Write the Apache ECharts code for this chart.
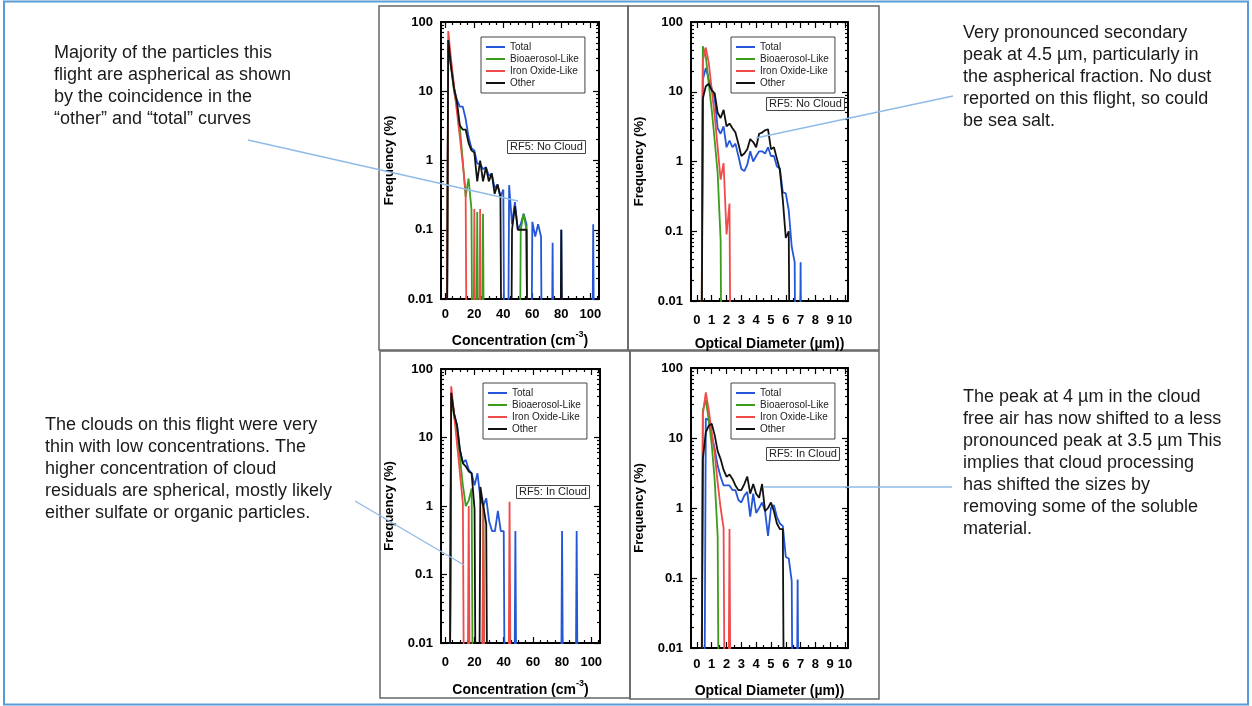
<!DOCTYPE html>
<html><head><meta charset="utf-8">
<script src="https://cdn.jsdelivr.net/npm/echarts@6/dist/echarts.min.js"></script>
<style>html,body{margin:0;padding:0;background:#fff}#c{width:1252px;height:706px}</style>
</head><body><div id="c"></div>
<script>
const FONT = '"Liberation Sans", Arial, Helvetica, sans-serif';

// ---------- data ----------
const seriesNames = ['Total', 'Bioaerosol-Like', 'Iron Oxide-Like', 'Other'];
const seriesColors = ['#2456d8', '#3c9c1c', '#f04a4a', '#111111'];

const concBins = [0,2,4,6,8,10,12,14,16,18, 20,22,24,26,28,30,32,34,36,38, 40,42,44,46,48,50,52,54,56,58, 60,62,64,66,68,70,72,74,76,78, 80,82,84,86,88,90,92,94,96,98, 100,102,104];
const diamBins = [0.2,0.4,0.6,0.8,1.0,1.2,1.4,1.6,1.8,2.0, 2.2,2.4,2.6,2.8,3.0,3.2,3.4,3.6,3.8,4.0, 4.2,4.4,4.6,4.8,5.0,5.2,5.4,5.6,5.8,6.0, 6.2,6.4,6.6,6.8,7.0,7.2,7.4];

// RF5 No Cloud, concentration (frequency %)
const noCloudConcTotal = [0,55,24,11,7.5,6,6,4,2.2,1.5, 1.4,0.9,0.9,0.75,0.8,0.6,0.65,0.4,0.45,0.3, 0.38,0,0.44,0.12,0.25,0.1,0.12,0.17,0.12,0, 0.13,0.08,0.12,0.08,0,0,0,0.065,0,0, 0.1,0,0,0,0,0,0,0,0,0, 0,0.12,0];
const noCloudConcBio   = [0,45,22,10,6,3,1,0.3,0.55,0.2, 0,0.18,0,0.17,0,0,0,0,0,0, 0,0,0,0,0,0,0.1,0.17,0.1,0, 0,0,0,0,0,0,0,0,0,0, 0,0,0,0,0,0,0,0,0,0, 0,0,0];
const noCloudConcIron  = [0,74,28,12,5,2.2,0.9,0.35,0,0, 0.2,0,0.2,0,0,0,0,0,0,0, 0,0,0,0,0,0,0,0,0,0, 0,0,0,0,0,0,0,0,0,0, 0,0,0,0,0,0,0,0,0,0, 0,0,0];
const noCloudConcOther = [0,55,22,11,7,3.2,2.8,2.8,1.8,1.4, 1.3,0.5,1.0,0.5,0.8,0.5,0.65,0.33,0.45,0.3, 0,0,0,0.1,0.22,0.1,0.1,0.1,0.1,0, 0,0,0,0,0,0,0,0,0,0, 0.1,0,0,0,0,0,0,0,0,0, 0,0,0];

// RF5 No Cloud, optical diameter
const noCloudDiamTotal = [0,15,22,15,11,8,3.0,2.5,3.2,1.6, 2.0,1.6,1.8,1.2,0.78,0.73,0.9,1.4,1.0,1.2, 1.4,1.4,1.3,1.6,1.2,1.2,0.85,0.8,0.36,0.35, 0.2,0.06,0.036,0,0.036,0,0];
const noCloudDiamBio   = [0,45,32,13,5.5,2.0,0.68,0.075,0,0, 0,0,0,0,0,0,0,0,0,0, 0,0,0,0,0,0,0,0,0,0, 0,0,0,0,0,0,0];
const noCloudDiamIron  = [0,28,43,26,10.7,4.5,1.6,0.55,0.95,0.09, 0.25,0,0,0,0,0,0,0,0,0, 0,0,0,0,0,0,0,0,0,0, 0,0,0,0,0,0,0];
const noCloudDiamOther = [0,8,12,13,10.5,9.5,5,4.2,5.5,3.2, 3.5,3.0,2.6,1.8,1.2,1.3,1.5,2.1,1.9,1.6, 2.5,2.6,2.8,2.9,1.5,1.6,1.1,0.75,0.28,0.08, 0.1,0,0,0,0,0,0];

// RF5 In Cloud, concentration
const inCloudConcTotal = [0,0,45,22,15,6.5,4.3,4.7,3.4,3.0, 2.0,3.0,1.3,1.0,1.3,0.6,0.43,0.43,0.85,0.43, 0.43,0,0,0,0.43,0,0,0,0,0, 0,0,0,0,0,0,0,0,0,0, 0.43,0,0,0,0,0.43,0,0,0,0, 0,0,0];
const inCloudConcBio   = [0,0,40,20,12,5,2,1.0,1.2,1.8, 0,0,0,1.1,0,0,0,0,0,0, 0,0,0,0,0,0,0,0,0,0, 0,0,0,0,0,0,0,0,0,0, 0,0,0,0,0,0,0,0,0,0, 0,0,0];
const inCloudConcIron  = [0,0,56,22,8,3,1.1,0,1.0,0, 0,0,0,1.1,0,0,0,0,0,0, 0,0,1.15,0,0,0,0,0,0,0, 0,0,0,0,0,0,0,0,0,0, 0,0,0,0,0,0,0,0,0,0, 0,0,0];
const inCloudConcOther = [0,0,45,22,15,6.5,4.2,3.8,3.2,3.0, 0.9,0,1.9,1.0,0.55,0,0,0,0,0, 0,0,0,0,0,0,0,0,0,0, 0,0,0,0,0,0,0,0,0,0, 0,0,0,0,0,0,0,0,0,0, 0,0,0];

// RF5 In Cloud, optical diameter
const inCloudDiamTotal = [0,0,19,18,11,7,4,2.8,2.1,2.1, 2.1,1.8,1.8,1.3,1.2,1.5,1.7,0.75,1.6,0.85, 1.0,1.2,0.9,0.4,1.0,1.1,0.75,0.6,0.55,0.2, 0.19,0.09,0,0.095,0,0,0];
const inCloudDiamBio   = [0,25,35,18,8,2.5,0.4,0,0,0, 0,0,0,0,0,0,0,0,0,0, 0,0,0,0,0,0,0,0,0,0, 0,0,0,0,0,0,0];
const inCloudDiamIron  = [0,22,45,25,12,6,2.3,1.0,0.52,0, 0.5,0,0,0,0,0,0,0,0,0, 0,0,0,0,0,0,0,0,0,0, 0,0,0,0,0,0,0];
const inCloudDiamOther = [0,5,12,15,16,11,6.5,5,3.5,2.8, 3.0,2.6,2.1,1.8,1.8,2.2,2.8,1.6,2.2,1.6, 1.4,2.2,0.9,1.0,1.2,0.9,0.6,0.5,0.5,0, 0,0,0,0,0,0,0];

// tick labels / tick values
const concTicks = [0,20,40,60,80,100];
const concMinorTicks = [5,10,15,25,30,35,45,50,55,65,70,75,85,90,95,105];
const diamTicks = [0,1,2,3,4,5,6,7,8,9,10];
const diamMinorTicks = [0.5,1.5,2.5,3.5,4.5,5.5,6.5,7.5,8.5,9.5];
const freqDecades = [0.01,0.1,1,10,100];
const freqMinorTicks = [0.02,0.03,0.04,0.05,0.06,0.07,0.08,0.09, 0.2,0.3,0.4,0.5,0.6,0.7,0.8,0.9, 2,3,4,5,6,7,8,9, 20,30,40,50,60,70,80,90];
const freqMin = 0.01, freqMax = 100;
const ZERO_FLOOR = 1e-8; // zero counts drop to the bottom of the log axis

// ---------- layout ----------
const concName = '{a|Concentration (cm}{s|-3}{a|)}';
const diamName = '{a|Optical Diameter (\u00b5m))}';
const panels = [
  {grid:{left:441,top:22,width:158,height:277}, xMin:-3, xMax:106, bins:concBins, ticks:concTicks, minor:concMinorTicks,
   xName:concName, labelMargin:9, nameGap:31,
   data:[noCloudConcTotal,noCloudConcBio,noCloudConcIron,noCloudConcOther], legend:{left:481,top:37}, tag:{text:'RF5: No Cloud',left:507,top:140}},
  {grid:{left:691,top:22,width:157,height:279}, xMin:-0.4, xMax:10.2, bins:diamBins, ticks:diamTicks, minor:diamMinorTicks,
   xName:diamName, labelMargin:13, nameGap:32,
   data:[noCloudDiamTotal,noCloudDiamBio,noCloudDiamIron,noCloudDiamOther], legend:{left:731,top:37}, tag:{text:'RF5: No Cloud',left:766,top:97}},
  {grid:{left:441,top:369,width:159,height:274}, xMin:-3, xMax:106, bins:concBins, ticks:concTicks, minor:concMinorTicks,
   xName:concName, labelMargin:13, nameGap:36,
   data:[inCloudConcTotal,inCloudConcBio,inCloudConcIron,inCloudConcOther], legend:{left:483,top:383}, tag:{text:'RF5: In Cloud',left:516,top:485}},
  {grid:{left:691,top:368,width:157,height:280}, xMin:-0.4, xMax:10.2, bins:diamBins, ticks:diamTicks, minor:diamMinorTicks,
   xName:diamName, labelMargin:10, nameGap:32,
   data:[inCloudDiamTotal,inCloudDiamBio,inCloudDiamIron,inCloudDiamOther], legend:{left:731,top:383}, tag:{text:'RF5: In Cloud',left:766,top:447}}
];

const BLACK = '#000';
const axisLineOn = {show:true, onZero:false, lineStyle:{color:BLACK, width:2}};
const axisLineOff = {show:false, onZero:false};
const tickStyle = {color:BLACK, width:1.2};
const grids = [], xAxes = [], yAxes = [], series = [], legends = [], titles = [];
const log10 = v => Math.log(v) / Math.LN10;

panels.forEach((p, gi) => {
  grids.push(Object.assign({show:false, outerBoundsMode:'none', containLabel:false}, p.grid));
  const xb = {type:'value', gridIndex:gi, min:p.xMin, max:p.xMax, splitLine:{show:false}, axisLabel:{show:false}, axisLine:axisLineOff};
  xAxes.push(Object.assign({}, xb, {position:'bottom', axisLine:axisLineOn,
    axisTick:{show:true, inside:true, length:6, customValues:p.ticks, lineStyle:tickStyle},
    axisLabel:{show:true, customValues:p.ticks, margin:p.labelMargin, color:BLACK, fontSize:13, fontWeight:'bold', fontFamily:FONT},
    name:p.xName, nameLocation:'middle', nameGap:p.nameGap,
    nameTextStyle:{rich:{
      a:{fontSize:14, fontWeight:'bold', fontFamily:FONT, color:BLACK, lineHeight:18, verticalAlign:'bottom'},
      s:{fontSize:9, fontWeight:'bold', fontFamily:FONT, color:BLACK, verticalAlign:'top'}}}}));
  xAxes.push(Object.assign({}, xb, {position:'bottom', axisTick:{show:true, inside:true, length:3, customValues:p.minor, lineStyle:tickStyle}}));
  xAxes.push(Object.assign({}, xb, {position:'top', axisLine:axisLineOn, axisTick:{show:true, inside:true, length:6, customValues:p.ticks, lineStyle:tickStyle}}));
  xAxes.push(Object.assign({}, xb, {position:'top', axisTick:{show:true, inside:true, length:3, customValues:p.minor, lineStyle:tickStyle}}));

  yAxes.push({type:'log', logBase:10, gridIndex:gi, min:freqMin, max:freqMax, position:'left',
    axisLine:axisLineOn, splitLine:{show:false}, minorTick:{show:false},
    axisTick:{show:true, inside:true, length:6, lineStyle:tickStyle},
    axisLabel:{margin:8, color:BLACK, fontSize:13, fontWeight:'bold', fontFamily:FONT},
    name:'Frequency (%)', nameLocation:'middle', nameGap:45, nameRotate:90,
    nameTextStyle:{fontSize:13, fontWeight:'bold', color:BLACK, fontFamily:FONT}});
  const yb = {type:'value', gridIndex:gi, min:log10(freqMin), max:log10(freqMax), splitLine:{show:false}, axisLabel:{show:false}, axisLine:axisLineOff};
  yAxes.push(Object.assign({}, yb, {position:'left', axisTick:{show:true, inside:true, length:3, customValues:freqMinorTicks.map(log10), lineStyle:tickStyle}}));
  yAxes.push(Object.assign({}, yb, {position:'right', axisLine:axisLineOn, axisTick:{show:true, inside:true, length:6, customValues:freqDecades.map(log10), lineStyle:tickStyle}}));
  yAxes.push(Object.assign({}, yb, {position:'right', axisTick:{show:true, inside:true, length:3, customValues:freqMinorTicks.map(log10), lineStyle:tickStyle}}));

  seriesNames.forEach((nm, k) => {
    series.push({type:'line', name:nm, xAxisIndex:gi*4, yAxisIndex:gi*4,
      data:p.bins.map((x, i) => [x, p.data[k][i] > 0 ? p.data[k][i] : ZERO_FLOOR]),
      showSymbol:false, symbol:'none', color:seriesColors[k], clip:true, z:2 + k,
      lineStyle:{width:1.8, color:seriesColors[k]}, emphasis:{disabled:true}});
  });

  legends.push({data:seriesNames, left:p.legend.left, top:p.legend.top, orient:'vertical', icon:'rect',
    itemWidth:19, itemHeight:2, itemGap:0, padding:[4,6,4,5], borderColor:'#444', borderWidth:1,
    selectedMode:false, textStyle:{fontSize:10, color:'#222', fontFamily:FONT, lineHeight:12}});

  titles.push({text:p.tag.text, left:p.tag.left, top:p.tag.top, padding:[0,3], borderColor:'#444', borderWidth:1,
    textStyle:{fontSize:11, fontWeight:'normal', color:'#222', fontFamily:FONT, lineHeight:14}});
});

// annotation notes
const noteStyle = {fontSize:18, fontWeight:'normal', color:'#1a1a1a', fontFamily:FONT, lineHeight:22};
titles.push({text:'Majority of the particles this\nflight are aspherical as shown\nby the coincidence in the\n\u201cother\u201d and \u201ctotal\u201d curves', left:54, top:42, padding:0, textStyle:noteStyle});
titles.push({text:'Very pronounced secondary\npeak at 4.5 \u00b5m, particularly in\nthe aspherical fraction. No dust\nreported on this flight, so could\nbe sea salt.', left:963, top:22, padding:0, textStyle:noteStyle});
titles.push({text:'The clouds on this flight were very\nthin with low concentrations. The\nhigher concentration of cloud\nresiduals are spherical, mostly likely\neither sulfate or organic particles.', left:45, top:414, padding:0, textStyle:noteStyle});
titles.push({text:'The peak at 4 \u00b5m in the cloud\nfree air has now shifted to a less\npronounced peak at 3.5 \u00b5m This\nimplies that cloud processing\nhas shifted the sizes by\nremoving some of the soluble\nmaterial.', left:963, top:386, padding:0, textStyle:noteStyle});

const frameStyle = {fill:'none', stroke:'#666', lineWidth:1.5};
const leaderStyle = {stroke:'#8fbbe6', lineWidth:1.4};
const graphics = [
  {type:'rect', shape:{x:4, y:1.5, width:1244, height:703}, style:{fill:'none', stroke:'#5b9bd5', lineWidth:2}, z:0},
  {type:'rect', shape:{x:379, y:6, width:249, height:344}, style:frameStyle, z:0},
  {type:'rect', shape:{x:628, y:6, width:251, height:344}, style:frameStyle, z:0},
  {type:'rect', shape:{x:380, y:351, width:250, height:347}, style:frameStyle, z:0},
  {type:'rect', shape:{x:630, y:351, width:249, height:348}, style:frameStyle, z:0},
  {type:'line', shape:{x1:248, y1:140, x2:518, y2:201}, style:leaderStyle, z:100},
  {type:'line', shape:{x1:953, y1:96, x2:756, y2:138}, style:leaderStyle, z:100},
  {type:'line', shape:{x1:355, y1:501, x2:464, y2:565}, style:leaderStyle, z:100},
  {type:'line', shape:{x1:952, y1:487, x2:763, y2:487}, style:leaderStyle, z:100}
];

const chart = echarts.init(document.getElementById('c'), null, {renderer:'canvas', width:1252, height:706});
chart.setOption({
  backgroundColor:'#ffffff',
  animation:false,
  textStyle:{fontFamily:FONT},
  title:titles,
  legend:legends,
  grid:grids,
  xAxis:xAxes,
  yAxis:yAxes,
  series:series,
  graphic:{elements:graphics}
});
</script></body></html>
